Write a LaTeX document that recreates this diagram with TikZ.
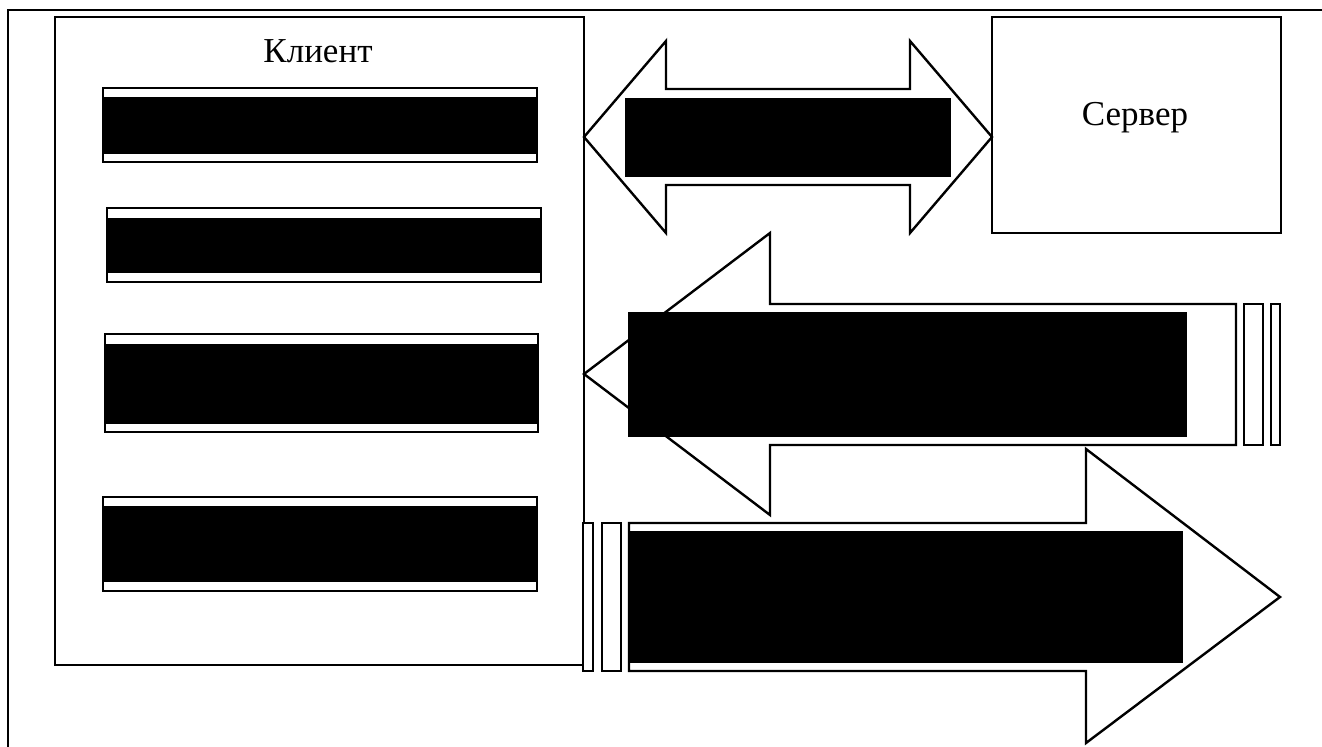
\documentclass[tikz,border=0pt]{standalone}
\usepackage{fontspec}
\setmainfont{Liberation Serif}
\usetikzlibrary{fit}
\begin{document}
\begin{tikzpicture}[x=0.5pt,y=-0.5pt,line width=1.2pt,line join=miter,
  box/.style={draw=black,fill=white,inner sep=0pt,outer sep=0pt,line width=1.2pt},
  redact/.style={fill=black,draw=none,inner sep=0pt,outer sep=0pt},
  blockarrow/.style={draw=black,fill=white,line width=1.2pt},
  stripe/.style={draw=black,fill=white,line width=1.2pt},
  caption/.style={font=\fontsize{17.5}{20}\selectfont,inner sep=0pt,anchor=base}]
\useasboundingbox (0,0) rectangle (1322,747);
\fill[white] (0,0) rectangle (1322,747);

% page frame, running off the right and bottom edges
\begin{scope}
  \clip (0,0) rectangle (1322,747);
  \draw[line width=1.3pt] (8,10) rectangle (1350,780);
\end{scope}

% client and server blocks
\node[box,fit={(55,17)(584,665)}] (client) {};
\node[caption] (clientlabel) at (318,63) {Клиент};
\node[box,fit={(992,17)(1281,233)}] (server) {};
\node[caption] (serverlabel) at (1135,126) {Сервер};

% list entries inside the client block
\foreach \n/\xa/\ya/\xb/\yb/\ta/\tb in {
    1/103/88/537/162/97/154,
    2/107/208/541/282/218/273,
    3/105/334/538/432/344/424,
    4/103/497/537/591/506/582} {
  \node[box,fit={(\xa,\ya)(\xb,\yb)}] (entry\n) {};
  \node[redact,fit={(\xa,\ta)(\xb,\tb)}] (entrytext\n) {};
}

% two-way exchange between client and server
\coordinate (dl) at (584,137);
\coordinate (dr) at (992,137);
\draw[blockarrow] (dl) -- (666,41) -- (666,89) -- (910,89) -- (910,41) -- (dr)
  -- (910,233) -- (910,185) -- (666,185) -- (666,233) -- cycle;
\node[redact,fit={(625,98)(951,177)}] (dtext) {};

% response arrow towards the client
\coordinate (lt) at (584,374);
\draw[blockarrow] (lt) -- (770,233) -- (770,304) -- (1236,304) -- (1236,445)
  -- (770,445) -- (770,515) -- cycle;
\node[stripe,fit={(1244,304)(1263,445)},inner sep=0pt] (ls1) {};
\node[stripe,fit={(1271,304)(1280,445)},inner sep=0pt] (ls2) {};
\node[redact,fit={(628,312)(1187,437)}] (ltext) {};

% request arrow leaving the client
\coordinate (rt) at (1280,597);
\draw[blockarrow] (629,523) -- (1086,523) -- (1086,449) -- (rt) -- (1086,743)
  -- (1086,671) -- (629,671) -- cycle;
\node[stripe,fit={(583,523)(593,671)},inner sep=0pt] (rs1) {};
\node[stripe,fit={(602,523)(621,671)},inner sep=0pt] (rs2) {};
\node[redact,fit={(630,531)(1183,663)}] (rtext) {};
\end{tikzpicture}
\end{document}
